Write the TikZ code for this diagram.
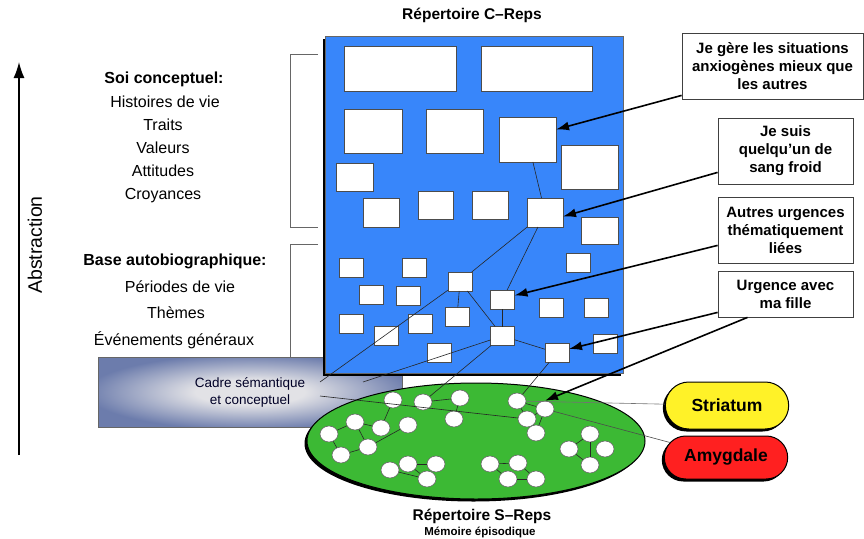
\documentclass[tikz,border=0pt]{standalone}
\usepackage{fontspec}
\setmainfont{Liberation Sans}
\usetikzlibrary{arrows.meta,shapes.geometric,shapes.misc,shadows}

\definecolor{crepblue}{RGB}{56,134,250}
\definecolor{srepgreen}{RGB}{60,185,52}
\definecolor{striatyellow}{RGB}{255,242,40}
\definecolor{amygred}{RGB}{255,32,32}
\definecolor{cadreout}{RGB}{108,124,172}
\definecolor{cadrein}{RGB}{226,226,230}
\pgfdeclareradialshading{cadreglow}{\pgfpoint{0bp}{0bp}}{color(0bp)=(cadrein); color(9bp)=(cadrein); color(27bp)=(cadreout); color(50bp)=(cadreout)}

\begin{document}
\begin{tikzpicture}[x=1pt,y=-1pt,
  sh/.style={drop shadow={shadow xshift=-2.5pt,shadow yshift=-2.5pt,opacity=1,fill=black}},
  cbox/.style={draw=black!70,fill=white,line width=.8pt,inner sep=0pt,outer sep=0pt},
  small/.style={cbox,minimum width=24pt,minimum height=19pt},
  enode/.style={ellipse,draw=black!60,fill=white,line width=.6pt,minimum width=18pt,minimum height=16pt,inner sep=0pt},
  link/.style={draw=black!85,line width=.6pt},
  callarrow/.style={line width=1.6pt,-{Latex[length=13pt,width=9pt]}},
  callout/.style={draw=black!75,fill=white,line width=.8pt,align=center,inner sep=0pt,
    font=\bfseries\fontsize{15}{18}\selectfont},
  lbl/.style={font=\fontsize{16}{18}\selectfont},
  head/.style={font=\bfseries\fontsize{16}{18}\selectfont},
  brain/.style={rounded rectangle,draw=black,line width=1pt,sh,minimum width=130pt,
    font=\bfseries\fontsize{17.5}{20}\selectfont}]
\useasboundingbox (0,0) rectangle (864,538);

% abstraction axis
\coordinate (abs0) at (19,455);
\coordinate (abs1) at (19,62);
\draw[line width=1.5pt,-{Latex[length=16pt,width=11pt]}] (abs0) -- (abs1);
\node[rotate=90,font=\fontsize{19.5}{22}\selectfont] (abstr) at (35,245) {Abstraction};

% left labels
\node[head] (soi) at (164,79) {Soi conceptuel:};
\node[lbl] (hist) at (165,102) {Histoires de vie};
\node[lbl] (traits) at (163,125) {Traits};
\node[lbl] (val) at (163,148) {Valeurs};
\node[lbl] (att) at (163,171) {Attitudes};
\node[lbl] (croy) at (163,196) {Croyances};
\node[head] (base) at (175,261) {Base autobiographique:};
\node[lbl] (per) at (180,287) {Périodes de vie};
\node[lbl] (them) at (176,313) {Thèmes};
\node[lbl] (evt) at (174,340) {Événements généraux};

% brackets
\draw[black!60,line width=.7pt] (318,54) -- (290,54) -- (290,227) -- (318,227);
\draw[black!60,line width=.7pt] (318,244) -- (290,244) -- (290,363) -- (318,363);

% semantic frame
\node[rectangle,minimum width=304pt,minimum height=70pt,draw=black!60,line width=.6pt,
  shading=cadreglow,align=center,text=black!85!blue,
  font=\fontsize{13.5}{17}\selectfont] (cadre) at (250,392) {Cadre sémantique\\et conceptuel};
\coordinate (k1) at (320,382);
\coordinate (k2) at (363,382);
\coordinate (k3) at (320,396);

% C-Reps repertoire
\node[font=\bfseries\fontsize{15.5}{18}\selectfont] (ctitle) at (472,15) {Répertoire C–Reps};
\filldraw[fill=crepblue,draw=black!60,line width=.6pt,sh] (325,36) rectangle (623,373);
\node[cbox,minimum width=112pt,minimum height=45pt] (c1) at (400,68.5) {};
\node[cbox,minimum width=111pt,minimum height=45pt] (c2) at (536.5,68.5) {};
\node[cbox,minimum width=58pt,minimum height=44pt] (c3) at (373,131) {};
\node[cbox,minimum width=57pt,minimum height=44pt] (c4) at (454.5,131) {};
\node[cbox,minimum width=57pt,minimum height=45pt] (c5) at (527.5,139.5) {};
\node[cbox,minimum width=57pt,minimum height=44pt] (c6) at (589.5,167) {};
\node[cbox,minimum width=37pt,minimum height=28pt] (c7) at (354.5,177) {};
\node[cbox,minimum width=36pt,minimum height=29pt] (c8) at (381,212.5) {};
\node[cbox,minimum width=35pt,minimum height=28pt] (c9) at (435.5,205) {};
\node[cbox,minimum width=36pt,minimum height=28pt] (c10) at (490,205) {};
\node[cbox,minimum width=36pt,minimum height=29pt] (c11) at (545,212.5) {};
\node[cbox,minimum width=37pt,minimum height=27pt] (c12) at (599.5,230.5) {};
\node[small] (c13) at (351,267.5) {};
\node[small] (c14) at (414,267.5) {};
\node[small] (c15) at (578,262.5) {};
\node[small] (c16) at (460,281.5) {};
\node[small] (c17) at (371,294.5) {};
\node[small] (c18) at (408,295.5) {};
\node[small] (c19) at (502.5,299.5) {};
\node[small] (c20) at (551,307.5) {};
\node[small] (c21) at (596,307.5) {};
\node[small] (c22) at (351,323.5) {};
\node[small] (c23) at (420.5,323.5) {};
\node[small] (c24) at (457,317) {};
\node[small] (c25) at (386,336) {};
\node[small] (c26) at (502.5,336) {};
\node[small] (c27) at (439,353) {};
\node[small] (c28) at (557,353) {};
\node[small] (c29) at (605.5,344) {};

% S-Reps repertoire
\filldraw[fill=srepgreen,draw=black,line width=1pt,sh] (476,441) ellipse[x radius=169pt,y radius=58pt];
\node[font=\bfseries\fontsize{15.5}{18}\selectfont] (stitle) at (482,516) {Répertoire S–Reps};
\node[font=\bfseries\fontsize{11.5}{12}\selectfont] (smem) at (480,532) {Mémoire épisodique};
\node[enode] (e1) at (393,400) {};
\node[enode] (e2) at (423,402) {};
\node[enode] (e3) at (460,398) {};
\node[enode] (e4) at (454,419) {};
\node[enode] (e5) at (355,422) {};
\node[enode] (e6) at (381,428) {};
\node[enode] (e7) at (408,425) {};
\node[enode] (e8) at (329,434) {};
\node[enode] (e9) at (368,447) {};
\node[enode] (e10) at (341,455) {};
\node[enode] (e11) at (390,470) {};
\node[enode] (e12) at (408,464) {};
\node[enode] (e13) at (436,464) {};
\node[enode] (e14) at (427,479) {};
\node[enode] (e15) at (490,464) {};
\node[enode] (e16) at (518,463) {};
\node[enode] (e17) at (508,479) {};
\node[enode] (e18) at (536,479) {};
\node[enode] (e19) at (517,401) {};
\node[enode] (e20) at (545,409) {};
\node[enode] (e21) at (527,419) {};
\node[enode] (e22) at (536,433) {};
\node[enode] (e23) at (590,434) {};
\node[enode] (e24) at (569,449) {};
\node[enode] (e25) at (605,449) {};
\node[enode] (e26) at (590,465) {};

% brain structures
\node[brain,fill=striatyellow,minimum height=47pt] (strt) at (727,405.5) {Striatum};
\node[brain,fill=amygred,minimum height=43pt] (amyg) at (726,457.5) {Amygdale};

% links inside C-Reps
\draw[link] (c5) -- (c11);
\draw[link] (c11) -- (c16);
\draw[link] (c11) -- (c19);
\draw[link] (c16) -- (c24);
\draw[link] (c16) -- (c26);
\draw[link] (c19) -- (c26);
\draw[link] (c26) -- (c28);
\draw[link] (c16) -- (k1);
\draw[link] (c26) -- (k2);
\draw[link] (c26) -- (e2);
\draw[link] (c28) -- (e19);

% links inside S-Reps
\draw[link] (e1) -- (e6);
\draw[link] (e2) -- (e3);
\draw[link] (e3) -- (e4);
\draw[link] (e5) -- (e6);
\draw[link] (e5) -- (e8);
\draw[link] (e5) -- (e9);
\draw[link] (e8) -- (e10);
\draw[link] (e10) -- (e9);
\draw[link] (e9) -- (e7);
\draw[link] (e11) -- (e14);
\draw[link] (e12) -- (e13);
\draw[link] (e12) -- (e14);
\draw[link] (e15) -- (e16);
\draw[link] (e15) -- (e17);
\draw[link] (e16) -- (e18);
\draw[link] (e17) -- (e18);
\draw[link] (e19) -- (e20);
\draw[link] (e19) -- (e21);
\draw[link] (e20) -- (e21);
\draw[link] (e20) -- (e22);
\draw[link] (e23) -- (e24);
\draw[link] (e23) -- (e26);
\draw[link] (e24) -- (e26);
\draw[link] (k3) -- (e21);
\draw[link,draw=black!55] (e19) -- (strt);
\draw[link,draw=black!70] (e20) -- (amyg);

% callouts
\node[callout,minimum width=181pt,minimum height=66pt] (q1) at (772.5,66) {Je gère les situations\\anxiogènes mieux que\\les autres};
\node[callout,minimum width=135pt,minimum height=66pt] (q2) at (785.5,151) {Je suis\\quelqu'un de\\sang froid};
\node[callout,minimum width=135pt,minimum height=66pt] (q3) at (785.5,230) {Autres urgences\\thématiquement\\liées};
\node[callout,minimum width=135pt,minimum height=46pt] (q4) at (785.5,294) {Urgence avec\\ma fille};
\draw[callarrow] ([yshift=4pt]q1.south west) -- ([yshift=10pt]c5.east);
\draw[callarrow] ([yshift=12pt]q2.south west) -- ([yshift=-4pt]c11.east);
\draw[callarrow] ([yshift=18pt]q3.south west) -- ([yshift=4pt]c19.east);
\draw[callarrow] ([yshift=5pt]q4.south west) -- ([yshift=4pt]c28.east);
\draw[callarrow] ([xshift=-38pt]q4.south) -- (e20.north);
\end{tikzpicture}
\end{document}
